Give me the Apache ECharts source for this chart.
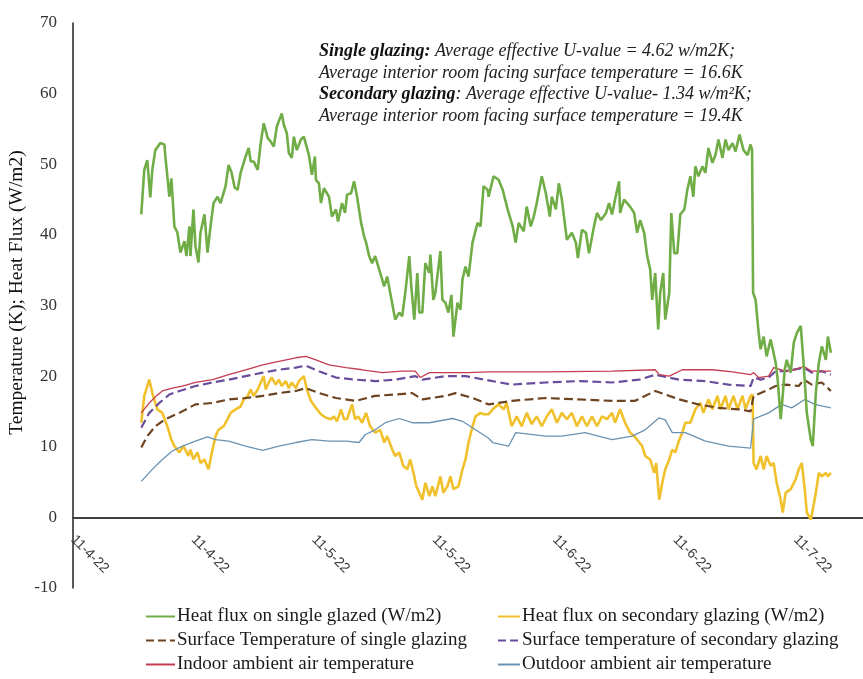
<!DOCTYPE html>
<html>
<head>
<meta charset="utf-8">
<script src="https://cdn.jsdelivr.net/npm/echarts@6/dist/echarts.min.js"></script>
<style>
  html, body { margin: 0; padding: 0; background: #fff; }
  #chart { width: 863px; height: 679px; }
</style>
</head>
<body>
<div id="chart"></div>
<script>
// Time is in hours since 11-4-22 00:00; one tick every 12 hours.
const DATE_LABELS = ['11-4-22', '11-4-22', '11-5-22', '11-5-22', '11-6-22', '11-6-22', '11-7-22'];

const SERIES_NAMES = [
  'Heat flux on single glazed (W/m2)',
  'Heat flux on secondary glazing (W/m2)',
  'Surface Temperature of single glazing',
  'Surface temperature of secondary glazing',
  'Indoor ambient air temperature',
  'Outdoor ambient air temperature'
];

// Heat flux through single glazing (W/m2)
const singleFluxT = [6.8,7.1,7.4,7.7,7.9,8.2,8.7,9.1,9.2,9.6,9.8,10.1,10.4,10.7,11.1,11.3,11.6,11.7,12.0,12.2,12.5,12.7,13.1,13.4,13.7,14.0,14.4,14.7,15.2,15.5,15.8,16.1,16.4,16.7,17.2,17.5,17.7,18.0,18.4,18.7,19.0,19.4,19.7,20.0,20.3,20.8,21.0,21.3,21.5,21.8,22.0,22.3,22.7,23.0,23.5,23.8,24.1,24.2,24.5,24.7,25.0,25.5,25.8,26.2,26.4,26.8,27.1,27.3,27.7,28.0,28.3,28.7,29.0,29.2,29.5,29.8,30.1,30.5,31.0,31.3,31.6,32.1,32.5,32.8,33.1,33.5,33.7,34.0,34.3,34.5,34.8,35.1,35.5,35.6,35.9,36.1,36.6,36.8,37.1,37.4,37.7,37.9,38.3,38.6,38.8,39.1,39.4,39.8,40.3,40.6,40.9,41.3,41.4,41.9,42.4,42.8,43.3,43.8,44.1,44.4,44.9,45.2,45.6,45.9,46.2,46.7,47.1,47.5,47.7,48.1,48.4,48.7,49.2,49.7,50.1,50.3,50.7,51.1,51.4,51.9,52.2,52.6,53.1,53.4,53.7,54.0,54.4,54.5,54.9,55.2,55.5,55.9,56.2,56.5,56.9,57.2,57.5,57.7,58.0,58.3,58.5,58.8,59.0,59.4,59.6,59.9,60.2,60.5,60.9,61.2,61.5,61.8,62.0,62.3,62.7,63.0,63.3,63.7,64.0,64.3,64.7,65.0,65.3,65.7,66.0,66.4,66.8,67.2,67.5,67.65,67.75,68.0,68.3,68.5,68.8,69.1,69.5,70.0,70.2,70.5,70.7,70.9,71.1,71.5,71.8,72.1,72.5,72.8,73.1,73.5,73.7,74.0,74.3,74.6,75.0,75.2,75.5];
const singleFluxV = [42.9,49.2,50.6,45.3,49.2,52.0,53.0,52.8,51.1,45.4,48.0,41.2,40.3,37.5,39.1,37.0,41.2,37.0,43.6,38.4,36.1,40.3,42.9,37.5,41.2,44.5,45.4,44.5,46.9,49.9,48.8,46.7,46.4,48.8,51.1,52.3,50.4,50.4,49.2,53.0,55.8,53.7,53.2,52.5,55.3,57.2,55.6,54.4,51.6,50.9,53.9,52.0,53.5,53.9,51.3,48.5,51.1,47.8,47.3,44.5,46.6,45.4,42.6,43.6,41.9,44.5,43.1,45.7,45.9,47.6,45.4,41.7,39.8,38.9,37.0,36.0,37.0,35.1,32.7,34.1,31.8,28.0,29.0,28.5,31.8,37.0,32.7,28.0,34.6,29.0,29.0,36.0,34.6,37.2,30.8,31.8,37.7,30.8,30.4,29.0,31.5,25.6,30.4,29.4,33.7,35.5,34.1,38.9,41.7,41.2,46.9,46.4,45.4,48.3,47.8,46.4,43.6,41.2,38.9,41.7,40.5,44.0,41.2,42.6,44.5,48.3,45.9,42.6,45.4,43.6,47.3,45.0,39.3,40.3,38.9,36.7,40.7,40.3,37.4,41.2,43.1,42.1,43.1,44.5,42.9,45.0,47.6,43.1,45.0,44.5,44.0,43.1,40.3,42.1,40.3,37.0,35.1,30.8,34.6,26.6,31.8,34.6,28.0,31.8,43.1,37.4,37.4,42.9,43.6,46.4,48.3,45.4,49.7,48.3,49.7,48.8,52.3,50.2,51.3,53.5,50.9,53.5,52.0,53.0,51.8,54.2,52.0,51.3,52.8,52.0,31.8,30.8,26.2,23.8,25.6,22.8,25.2,21.9,19.5,13.9,17.2,20.9,22.3,20.5,24.7,26.1,27.1,21.4,14.8,11.0,10.1,17.6,21.9,24.2,22.3,25.6,23.3];

// Heat flux through secondary glazing (W/m2)
const secondaryFluxT = [6.8,7.1,7.6,7.9,8.4,8.9,9.4,9.8,10.1,10.6,11.0,11.5,11.7,12.0,12.4,12.7,13.1,13.5,13.9,14.2,14.5,15.0,15.4,15.7,16.2,16.7,17.0,17.4,17.7,18.0,18.4,18.7,19.0,19.2,19.5,19.8,20.2,20.5,20.8,21.2,21.5,21.8,22.2,22.5,23.0,23.3,23.7,24.2,24.7,25.2,25.7,26.0,26.3,26.7,27.0,27.3,27.8,28.1,28.4,28.8,29.2,29.6,30.1,30.6,31.0,31.3,31.8,32.1,32.5,32.9,33.3,33.6,34.0,34.2,34.5,34.8,35.1,35.5,35.8,36.1,36.6,36.9,37.3,37.6,37.9,38.4,38.8,39.1,39.4,39.8,40.1,40.6,40.9,41.4,41.8,42.4,42.9,43.2,43.7,44.2,44.7,45.2,45.7,46.2,46.7,47.2,47.7,48.2,48.7,49.2,49.7,50.2,50.7,51.2,51.7,52.2,52.7,53.2,53.7,54.0,54.5,55.0,55.5,55.9,56.2,56.7,57.0,57.5,57.9,58.1,58.4,58.7,59.0,59.4,59.7,60.0,60.4,60.7,61.0,61.5,62.0,62.5,62.8,63.3,63.7,64.2,64.5,65.0,65.3,65.8,66.2,66.7,67.0,67.5,67.7,67.8,68.1,68.5,68.8,69.1,69.5,69.8,70.1,70.5,70.7,71.0,71.5,72.0,72.3,72.6,72.9,73.1,73.5,73.7,74.0,74.3,74.6,75.0,75.2,75.5];
const secondaryFluxV = [13.4,17.2,19.5,17.6,15.3,14.8,12.9,11.0,10.1,9.2,10.1,8.7,9.6,8.2,9.2,7.7,8.2,6.8,9.6,11.5,12.4,12.9,13.9,14.8,15.3,15.7,16.7,17.2,18.1,17.2,18.1,19.1,20.0,18.1,19.1,19.8,18.8,19.5,18.6,19.3,18.3,19.1,18.3,19.3,20.0,18.1,16.5,15.5,14.6,14.1,13.9,14.3,13.6,15.3,13.9,13.9,16.0,13.9,14.3,13.4,14.8,12.9,12.0,12.4,10.6,11.5,9.6,8.7,9.2,7.3,6.8,8.2,5.8,4.4,3.5,2.5,4.9,3.0,4.4,3.0,5.8,3.5,4.4,5.8,4.0,4.4,6.8,8.2,10.6,12.9,14.3,14.8,14.6,14.6,15.3,16.0,15.3,16.2,12.9,14.3,12.9,14.8,13.2,14.3,12.9,14.3,15.3,13.4,14.8,13.9,14.8,12.9,14.3,12.9,14.3,12.9,14.3,13.9,14.8,13.4,15.3,13.4,12.0,11.5,11.0,10.1,8.7,8.2,6.3,7.7,2.5,4.9,6.8,8.2,9.6,9.2,11.0,12.0,13.4,13.4,15.3,16.2,14.8,16.7,15.3,17.2,15.3,17.2,15.3,17.2,15.3,17.2,15.3,17.2,17.4,7.7,6.8,8.7,6.8,8.7,7.3,7.7,4.9,2.5,0.7,3.5,4.0,5.4,6.8,7.7,4.0,0.7,-0.3,1.1,3.5,6.3,5.8,6.3,5.8,6.3];

// Room-facing surface temperature of the single glazing (K)
const singleSurfT = [6.8,7.4,8.2,9.2,10.6,12.2,13.9,15.5,17.2,18.9,20.5,22.2,23.2,24.5,26.2,28.2,30.1,32.1,33.8,34.8,37.1,38.1,39.8,41.4,43.7,47.1,50.4,53.7,56.0,58.0,59.0,60.4,62.3,64.3,66.3,67.5,67.8,69.0,70.0,71.0,72.3,72.8,73.6,74.6,75.5];
const singleSurfV = [9.9,11.5,12.9,13.9,14.8,16.0,16.2,16.7,16.9,17.2,17.6,17.9,18.3,17.6,16.9,16.5,17.2,17.4,17.6,16.7,17.2,17.6,16.9,16.0,16.5,16.9,16.7,16.5,16.5,17.9,17.4,16.7,16.0,15.5,15.3,15.0,17.2,17.9,18.6,18.8,18.6,19.5,18.8,19.1,17.9];

// Room-facing surface temperature of the secondary glazing (K)
const secondarySurfT = [6.8,7.6,8.6,9.6,10.6,12.2,13.9,15.5,17.2,18.9,20.5,22.2,23.2,24.5,26.2,28.2,30.1,32.1,34.1,34.8,37.1,39.1,41.4,43.7,47.1,50.4,53.7,56.4,58.0,58.7,60.4,63.0,65.3,67.5,67.8,68.5,69.3,70.0,71.0,72.8,73.6,74.6,75.5];
const secondarySurfV = [12.7,14.8,16.2,17.4,17.9,18.6,19.1,19.5,20.0,20.5,20.9,21.2,21.5,20.7,19.8,19.5,19.3,19.5,20.0,19.5,20.0,20.0,19.4,18.8,19.1,19.3,19.1,19.5,20.2,20.0,19.5,19.3,18.8,18.6,19.8,19.5,19.8,20.7,20.7,21.2,20.5,20.7,20.2];

// Indoor ambient air temperature (K)
const indoorT = [6.8,7.6,8.3,8.9,9.9,10.9,12.2,13.9,15.5,17.2,18.9,20.5,22.2,23.2,24.2,25.5,27.2,28.8,30.8,32.8,34.1,34.6,35.5,37.4,39.4,41.4,47.1,53.7,58.0,58.4,59.4,60.7,63.7,65.7,67.5,67.8,68.3,69.3,69.8,71.0,71.9,72.8,73.6,74.6,75.5];
const indoorV = [14.8,16.2,17.2,17.9,18.3,18.6,19.1,19.5,20.2,20.9,21.6,22.1,22.6,22.8,22.3,21.6,21.2,20.9,20.5,20.7,20.7,19.8,20.5,20.5,20.5,20.6,20.6,20.7,20.9,20.2,20.0,20.9,20.9,20.6,20.2,20.5,19.8,20.0,21.2,20.7,20.9,21.4,20.7,20.7,20.7];

// Outdoor ambient air temperature (K)
const outdoorT = [6.8,7.9,8.9,9.9,10.9,12.2,13.4,14.2,15.5,17.2,18.9,20.5,22.2,23.8,25.5,27.2,28.5,29.1,30.1,31.1,32.5,33.8,35.5,37.8,38.8,40.1,41.4,41.8,43.4,44.1,47.1,48.7,51.0,53.7,55.7,57.0,58.4,59.0,59.7,61.0,63.0,65.3,67.5,67.8,69.3,70.6,71.6,72.9,73.9,75.5];
const outdoorV = [5.1,6.8,8.2,9.4,10.1,10.8,11.4,11.0,10.8,10.1,9.5,10.1,10.6,11.0,10.8,10.8,10.6,11.7,12.4,13.4,14.0,13.4,13.4,14.0,13.6,12.4,11.2,10.6,10.1,12.0,11.5,11.5,12.0,11.0,11.5,12.4,14.1,13.8,12.0,12.0,10.8,10.1,9.8,13.9,14.8,16.0,15.5,16.7,16.0,15.5];

const SERIF = 'Liberation Serif';

function zip(ts, vs) { return ts.map((t, i) => [t, vs[i]]); }

const seriesDefs = [
  { t: singleFluxT,    v: singleFluxV,    color: '#70AD47', width: 2.6, type: 'solid',  z: 3 },
  { t: secondaryFluxT, v: secondaryFluxV, color: '#F0C12C', width: 2.6, type: 'solid',  z: 2 },
  { t: singleSurfT,    v: singleSurfV,    color: '#6E4320', width: 2.2, type: 'dashed', z: 2 },
  { t: secondarySurfT, v: secondarySurfV, color: '#6A4C9C', width: 2.2, type: 'dashed', z: 2 },
  { t: indoorT,        v: indoorV,        color: '#C43C50', width: 1.3, type: 'solid',  z: 2 },
  { t: outdoorT,       v: outdoorV,       color: '#6A93B3', width: 1.3, type: 'solid',  z: 2 }
];

// Legend: two columns, three rows; one legend component per entry.
const LEGEND_ROWS = [618, 642, 666];
const legendSlots = [
  { left: 145, width: 29 }, { left: 497, width: 22 }
];
const legends = SERIES_NAMES.map((name, i) => {
  const col = i % 2, row = Math.floor(i / 2);
  return {
    left: legendSlots[col].left,
    top: LEGEND_ROWS[row] - 11,
    itemWidth: legendSlots[col].width,
    itemHeight: 14,
    padding: 0,
    itemStyle: { opacity: 0 },
    textStyle: { fontFamily: SERIF, fontSize: 19, color: '#1a1a1a', padding: [0, 0, 0, -3] },
    data: [name]
  };
});

const chart = echarts.init(document.getElementById('chart'), null, { renderer: 'canvas' });

chart.setOption({
  animation: false,
  backgroundColor: '#ffffff',
  title: {
    left: 314,
    top: 36,
    text: '{b|Single glazing:}{i| Average effective U-value = 4.62 w/m2K;}\n' +
          '{i|Average interior room facing surface temperature = 16.6K}\n' +
          '{b|Secondary glazing}{i|: Average effective U-value- 1.34 w/m²K;}\n' +
          '{i|Average interior room facing surface temperature = 19.4K}',
    textStyle: {
      fontWeight: 'normal',
      rich: {
        b: { fontFamily: SERIF, fontStyle: 'italic', fontWeight: 'bold', fontSize: 18, lineHeight: 21.5, color: '#111' },
        i: { fontFamily: SERIF, fontStyle: 'italic', fontWeight: 'normal', fontSize: 18, lineHeight: 21.5, color: '#222' }
      }
    }
  },
  grid: { left: 73, right: 0, top: 23, bottom: 91, containLabel: false, outerBoundsMode: 'none' },
  legend: legends,
  xAxis: {
    type: 'value',
    min: 0,
    max: 78.7,
    interval: 12,
    // the date axis sits on the zero line, 10 units above the grid bottom
    offset: -70.6,
    axisLine: { onZero: false, lineStyle: { color: '#404040', width: 1.8 } },
    axisTick: { show: false },
    splitLine: { show: false },
    axisLabel: {
      rotate: -45,
      margin: 20,
      showMaxLabel: false,
      fontFamily: 'Liberation Sans',
      fontSize: 14,
      color: '#3a3a3a',
      formatter: function (v) {
        const k = Math.round(v / 12);
        return Math.abs(v - k * 12) < 1e-6 && DATE_LABELS[k] ? DATE_LABELS[k] : '';
      }
    }
  },
  yAxis: {
    type: 'value',
    min: -10,
    max: 70,
    interval: 10,
    name: 'Temperature (K); Heat Flux (W/m2)',
    nameLocation: 'middle',
    nameGap: 46,
    nameMoveOverlap: false,
    nameTextStyle: { fontFamily: SERIF, fontSize: 19.5, color: '#111', padding: [0, 0, 0, 26] },
    axisLine: { show: true, lineStyle: { color: '#222', width: 1.5 } },
    axisTick: { show: false },
    splitLine: { show: false },
    axisLabel: { fontFamily: SERIF, fontSize: 17, color: '#333', margin: 16 }
  },
  series: seriesDefs.map((d, i) => ({
    name: SERIES_NAMES[i],
    type: 'line',
    data: zip(d.t, d.v),
    showSymbol: false,
    symbol: 'none',
    z: d.z,
    lineStyle: { color: d.color, width: d.width, type: d.type },
    itemStyle: { color: d.color }
  }))
});
</script>
</body>
</html>
